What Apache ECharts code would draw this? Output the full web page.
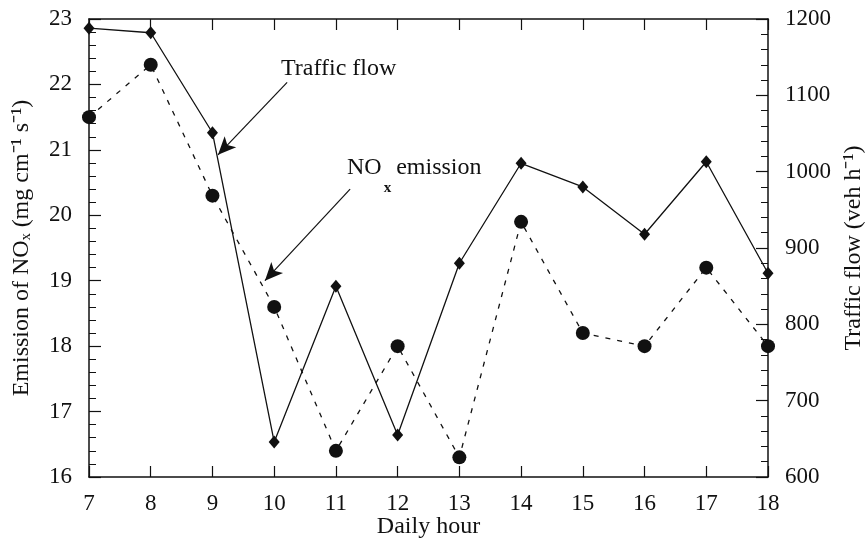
<!DOCTYPE html>
<html>
<head>
<meta charset="utf-8">
<script src="https://cdn.jsdelivr.net/npm/echarts@6/dist/echarts.min.js"></script>
<style>
	html, body { margin: 0; padding: 0; background: #fff; }
	#chart { width: 866px; height: 538px; }
</style>
</head>
<body>
<div id="chart"></div>
<script>
	/* data */
	var hours = [7, 8, 9, 10, 11, 12, 13, 14, 15, 16, 17, 18];
	var noxEmission = [21.5, 22.3, 20.3, 18.6, 16.4, 18.0, 16.3, 19.9, 18.2, 18.0, 19.2, 18.0];
	var trafficFlow = [1188, 1182, 1051, 646, 850, 655, 880, 1011, 980, 918, 1013, 867];

	// annotation arrows, in data units [hour, value]
	var trafficArrow = [[10.21, 1117], [9.09, 1022]];
	var noxArrow = [[11.23, 20.4], [9.85, 19.0]];

	function pairs(xs, ys) {
		var out = [];
		for (var i = 0; i < xs.length; i++) out.push([xs[i], ys[i]]);
		return out;
	}

	var font = 'Liberation Serif';
	var ink = '#111';

	var chart = echarts.init(document.getElementById('chart'));
	var option = {
		backgroundColor: '#fff',
		animation: false,
		grid: {
			top: 19,
			right: 98,
			bottom: 61,
			left: 89,
			outerBoundsMode: 'none'
		},
		xAxis: [{
			type: 'value',
			min: 7,
			max: 18,
			interval: 1,
			name: 'Daily hour',
			nameLocation: 'middle',
			nameGap: 38,
			nameMoveOverlap: false,
			nameTextStyle: { fontFamily: font, fontSize: 24, color: ink },
			axisLine: { lineStyle: { color: ink, width: 1.5 } },
			axisTick: { inside: true, length: 11, lineStyle: { color: ink, width: 1.2 } },
			axisLabel: { margin: 15, fontFamily: font, fontSize: 23, color: ink },
			splitLine: { show: false }
		}, {
			type: 'value',
			position: 'top',
			min: 7,
			max: 18,
			interval: 1,
			axisLine: { lineStyle: { color: ink, width: 1.5 } },
			axisTick: { inside: true, length: 11, lineStyle: { color: ink, width: 1.2 } },
			axisLabel: { show: false },
			splitLine: { show: false }
		}],
		yAxis: [{
			type: 'value',
			position: 'left',
			min: 16,
			max: 23,
			interval: 1,
			name: 'Emission of NOₓ (mg cm⁻¹ s⁻¹)',
			nameLocation: 'middle',
			nameRotate: 90,
			nameGap: 55,
			nameTextStyle: { fontFamily: font, fontSize: 24, color: ink },
			axisLine: { show: true, lineStyle: { color: ink, width: 1.5 } },
			axisTick: { inside: true, length: 12, lineStyle: { color: ink, width: 1.2 } },
			minorTick: { show: true, splitNumber: 5, length: 7, lineStyle: { color: ink, width: 1 } },
			axisLabel: { margin: 17, fontFamily: font, fontSize: 23, color: ink },
			splitLine: { show: false }
		}, {
			type: 'value',
			position: 'right',
			min: 600,
			max: 1200,
			interval: 100,
			name: 'Traffic flow (veh h⁻¹)',
			nameLocation: 'middle',
			nameRotate: 90,
			nameGap: 74,
			nameTextStyle: { fontFamily: font, fontSize: 24, color: ink },
			axisLine: { show: true, lineStyle: { color: ink, width: 1.5 } },
			axisTick: { inside: true, length: 12, lineStyle: { color: ink, width: 1.2 } },
			minorTick: { show: true, splitNumber: 5, length: 7, lineStyle: { color: ink, width: 1 } },
			axisLabel: {
				margin: 17, fontFamily: font, fontSize: 23, color: ink,
				formatter: function (v) { return String(v); }
			},
			splitLine: { show: false }
		}],
		series: [{
			name: 'NOx emission',
			type: 'line',
			xAxisIndex: 0,
			yAxisIndex: 0,
			data: pairs(hours, noxEmission),
			symbol: 'circle',
			symbolSize: 14,
			itemStyle: { color: ink },
			lineStyle: { color: ink, width: 1.3, type: [5, 7] },
			markLine: {
				silent: true,
				symbol: ['none', 'arrow'],
				symbolSize: [12, 18],
				label: { show: false },
				lineStyle: { color: ink, width: 1.2, type: 'solid' },
				data: [[{ coord: noxArrow[0] }, { coord: noxArrow[1] }]]
			}
		}, {
			name: 'Traffic flow',
			type: 'line',
			xAxisIndex: 0,
			yAxisIndex: 1,
			data: pairs(hours, trafficFlow),
			symbol: 'diamond',
			symbolSize: [11, 13],
			itemStyle: { color: ink },
			lineStyle: { color: ink, width: 1.3 },
			markLine: {
				silent: true,
				symbol: ['none', 'arrow'],
				symbolSize: [12, 18],
				label: { show: false },
				lineStyle: { color: ink, width: 1.2, type: 'solid' },
				data: [[{ coord: trafficArrow[0] }, { coord: trafficArrow[1] }]]
			}
		}],
		graphic: [{
			type: 'text',
			left: 281,
			top: 57,
			style: {
				text: 'Traffic flow',
				font: '24px "Liberation Serif"',
				fill: ink
			}
		}, {
			type: 'text',
			left: 347,
			top: 156,
			style: {
				text: '{a|NO}{b|x}{a|emission}',
				fill: ink,
				rich: {
					a: { fontFamily: font, fontSize: 24, color: ink, verticalAlign: 'top', lineHeight: 27 },
					b: { fontFamily: font, fontSize: 15, fontWeight: 'bold', color: ink, verticalAlign: 'bottom', lineHeight: 40, padding: [0, 5, 0, 2] }
				}
			}
		}]
	};
	chart.setOption(option);
</script>
</body>
</html>
